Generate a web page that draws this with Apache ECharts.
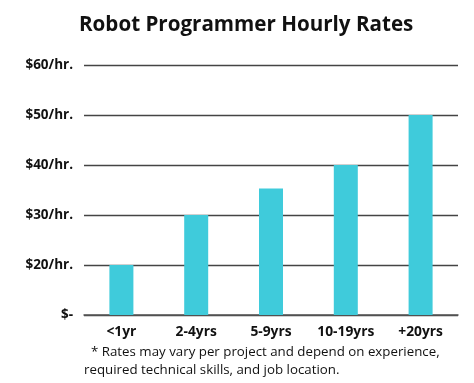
<!DOCTYPE html>
<html>
<head>
<meta charset="utf-8">
<script src="https://cdn.jsdelivr.net/npm/echarts@6/dist/echarts.min.js"></script>
<style>html,body{margin:0;padding:0;background:#fff;}#c{width:474px;height:383px;}</style>
</head>
<body>
<div id="c"></div>
<script>
var categories = ['<1yr', '2-4yrs', '5-9yrs', '10-19yrs', '+20yrs'];
var rates = [20, 30, 35.3, 40, 50];
var tickLabels = {10: '$-', 20: '$20/hr.', 30: '$30/hr.', 40: '$40/hr.', 50: '$50/hr.', 60: '$60/hr.'};
var titleText = 'Robot Programmer Hourly Rates';
var noteLine1 = '* Rates may vary per project and depend on experience,';
var noteLine2 = 'required technical skills, and job location.';

var font = '"Open Sans", "Noto Sans", sans-serif';
var chart = echarts.init(document.getElementById('c'), null, {renderer: 'canvas'});
chart.setOption({
  animation: false,
  title: {
    text: titleText, left: 74, top: 10,
    textStyle: {fontFamily: font, fontWeight: 'bold', fontSize: 20.6, color: '#111'}
  },
  grid: {left: 84, right: 16, top: 65, bottom: 68},
  xAxis: {
    type: 'category', data: categories,
    axisLine: {lineStyle: {color: '#555', width: 1.5}},
    axisTick: {show: false},
    axisLabel: {fontFamily: font, fontWeight: 'bold', fontSize: 13.8, color: '#111', margin: 10}
  },
  yAxis: {
    type: 'value', min: 10, max: 60, interval: 10,
    axisLine: {show: false}, axisTick: {show: false},
    splitLine: {lineStyle: {color: '#444', width: 1.3}},
    axisLabel: {
      fontFamily: font, fontWeight: 'bold', fontSize: 13.5, color: '#111', margin: 11,
      formatter: function (v) { return tickLabels[v] || ''; }
    }
  },
  series: [{
    type: 'bar', data: rates, barWidth: 24,
    itemStyle: {color: '#3FCBDB'}
  }],
  graphic: [
    {type: 'text', left: 91, top: 346, style: {text: noteLine1, font: '13.3px ' + font, fill: '#111'}},
    {type: 'text', left: 84, top: 364, style: {text: noteLine2, font: '13.3px ' + font, fill: '#111'}}
  ]
});
</script>
</body>
</html>
